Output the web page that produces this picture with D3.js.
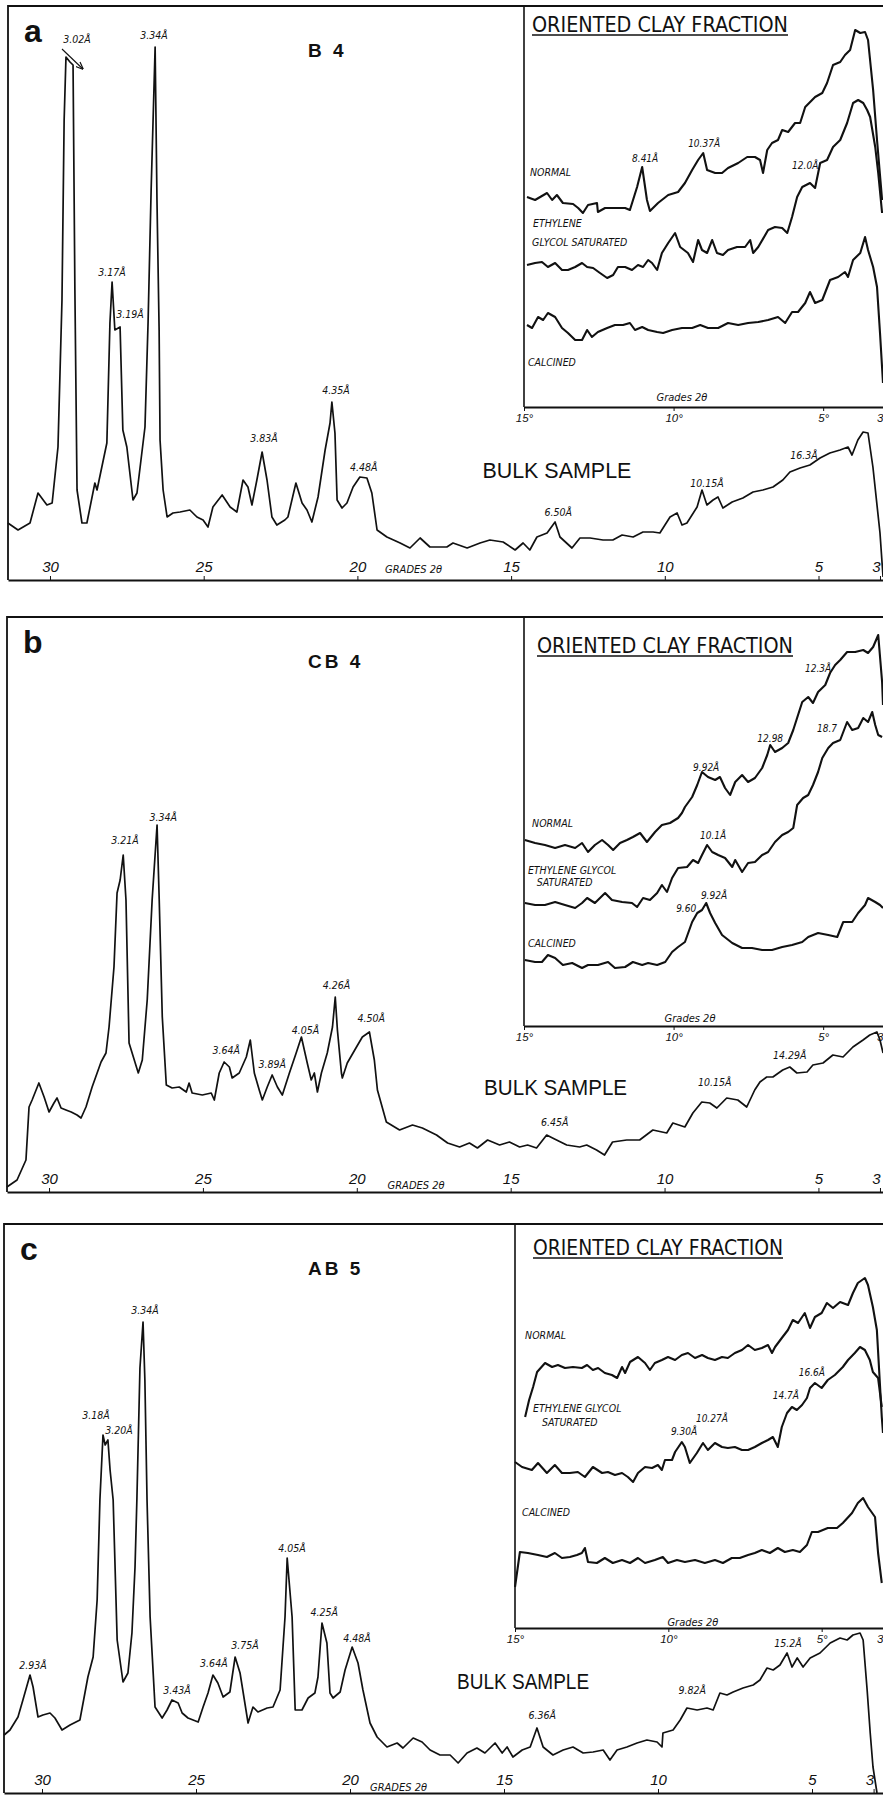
<!DOCTYPE html>
<html>
<head>
<meta charset="utf-8">
<script src="https://cdn.jsdelivr.net/npm/d3@7/dist/d3.min.js"></script>
<style>
  html, body { margin: 0; padding: 0; background: #fff; }
  svg { display: block; }
</style>
</head>
<body>
<svg id="fig" width="883" height="1802"></svg>
<script>
// XRD patterns, three samples — bulk trace + oriented clay fraction inset
// values: [2θ (deg), intensity (arbitrary units)]

const bulkTicks = [30, 25, 20, 15, 10, 5, 3];
const clayTicks = [15, 10, 5, 3];
const sampleNames = ["B 4", "CB 4", "AB 5"];
const clayTraceNames = ["normal", "glycol", "calcined"];

// ---------- panel a : B 4 ----------
const bulkA = [[31.37,57],[31.04,50],[30.65,57],[30.39,87],[30.10,75],[29.93,77],[29.74,133],[29.61,280],[29.54,460],[29.48,523],[29.35,518],[29.25,515],[29.19,290],[29.12,90],[28.96,57],[28.80,57],[28.54,97],[28.47,90],[28.15,137],[28.05,257],[27.98,298],[27.89,250],[27.72,253],[27.63,150],[27.50,133],[27.30,80],[27.17,87],[26.91,153],[26.81,257],[26.71,390],[26.58,533],[26.52,380],[26.45,250],[26.42,140],[26.32,90],[26.19,63],[26.00,67],[25.77,68],[25.45,70],[25.22,63],[25.02,60],[24.86,53],[24.70,73],[24.40,85],[24.14,73],[23.92,68],[23.72,100],[23.56,93],[23.43,75],[23.27,100],[23.10,128],[22.94,100],[22.78,63],[22.62,55],[22.36,60],[22.26,63],[22.00,97],[21.80,77],[21.64,70],[21.48,58],[21.28,83],[21.05,130],[20.89,157],[20.83,178],[20.73,147],[20.66,80],[20.50,72],[20.34,77],[20.14,93],[19.92,103],[19.69,102],[19.53,87],[19.36,50],[19.04,43],[18.61,37],[18.29,32],[17.96,42],[17.64,33],[17.09,33],[16.89,37],[16.43,32],[16.01,37],[15.69,40],[15.26,38],[14.87,30],[14.61,37],[14.39,30],[14.16,43],[13.83,47],[13.57,58],[13.41,43],[13.02,32],[12.76,42],[12.43,42],[12.01,40],[11.69,40],[11.39,45],[11.03,43],[10.71,48],[10.38,48],[10.16,47],[9.83,63],[9.60,67],[9.44,55],[9.28,57],[8.95,73],[8.79,90],[8.63,75],[8.43,80],[8.27,83],[8.11,72],[7.81,78],[7.46,82],[7.13,88],[6.81,90],[6.48,93],[6.16,100],[5.93,108],[5.60,112],[5.28,115],[4.95,122],[4.63,127],[4.30,130],[4.04,133],[3.91,125],[3.72,140],[3.55,148],[3.39,147],[3.23,113],[3.00,47],[2.90,3]];
const normalA = [[14.90,210],[14.63,207],[14.23,214],[14.06,207],[13.90,212],[13.70,204],[13.36,203],[13.19,199],[13.03,194],[12.86,202],[12.56,204],[12.53,195],[12.29,199],[11.96,199],[11.62,199],[11.46,197],[11.22,220],[11.05,240],[10.89,207],[10.79,196],[10.52,204],[10.18,212],[9.85,215],[9.62,224],[9.38,237],[9.18,247],[9.01,254],[8.88,237],[8.61,234],[8.38,234],[8.18,239],[7.84,244],[7.54,250],[7.28,250],[7.11,247],[7.01,234],[6.87,257],[6.71,264],[6.51,267],[6.37,277],[6.17,275],[5.94,284],[5.77,284],[5.60,300],[5.27,310],[5.03,314],[4.87,324],[4.67,342],[4.43,345],[4.27,352],[4.10,357],[3.93,377],[3.76,374],[3.60,375],[3.50,367],[3.33,317],[3.20,267],[3.03,207]];
const glycolA = [[14.90,142],[14.63,144],[14.40,145],[14.20,140],[13.96,144],[13.73,137],[13.53,137],[13.29,140],[13.06,144],[12.89,140],[12.69,139],[12.46,134],[12.22,129],[12.02,132],[11.86,140],[11.62,140],[11.39,137],[11.19,142],[11.02,140],[10.85,147],[10.72,144],[10.55,137],[10.39,154],[10.18,164],[9.95,174],[9.78,160],[9.52,154],[9.35,145],[9.18,167],[9.05,157],[8.88,154],[8.71,167],[8.55,154],[8.35,152],[8.18,157],[7.88,160],[7.61,160],[7.44,167],[7.34,154],[7.17,160],[6.84,177],[6.61,180],[6.37,179],[6.20,174],[6.04,190],[5.87,210],[5.70,220],[5.44,224],[5.27,219],[5.10,244],[4.87,247],[4.67,260],[4.43,267],[4.20,284],[4.00,304],[3.83,307],[3.66,304],[3.53,297],[3.43,290],[3.26,260],[3.16,234],[3.03,194]];
const calcinedA = [[14.90,82],[14.73,79],[14.53,90],[14.36,87],[14.20,94],[13.96,90],[13.73,79],[13.53,74],[13.29,67],[13.06,67],[12.89,77],[12.73,70],[12.53,75],[12.22,79],[11.96,82],[11.69,82],[11.46,84],[11.29,77],[11.05,80],[10.85,77],[10.55,75],[10.35,74],[10.05,77],[9.72,79],[9.38,79],[9.11,82],[8.85,79],[8.51,79],[8.18,84],[7.84,82],[7.51,84],[7.17,85],[6.84,87],[6.51,90],[6.27,84],[6.04,95],[5.84,95],[5.60,104],[5.44,115],[5.27,104],[5.03,107],[4.77,127],[4.50,130],[4.27,135],[4.17,130],[4.00,147],[3.76,154],[3.60,170],[3.50,157],[3.33,140],[3.20,120],[3.10,74],[3.00,24]];
const peaksA = [["3.02Å",29.12,537],["3.34Å",26.62,541],["3.17Å",27.98,304],["3.19Å",27.40,262],["3.83Å",23.04,138],["4.35Å",20.70,186],["4.48Å",19.79,109],["6.50Å",13.47,64],["10.15Å",8.63,93],["16.3Å",5.47,121]];
const arrowA = [[29.61,531],[28.93,511]];
const clayPeaksA = [["8.41Å",10.95,245],["10.37Å",8.98,260],["12.0Å",5.60,238]];
const clayNamesA = [["NORMAL",14.80,231],["ETHYLENE",14.70,180],["GLYCOL SATURATED",14.73,161],["CALCINED",14.87,41]];
const tagsA = [["BULK SAMPLE",13.51,102],["GRADES 2θ",19.10,7],["Grades 2θ",9.72,6]];

// ---------- panel b : CB 4 ----------
const bulkB = [[31.37,5],[31.04,12],[30.75,32],[30.65,85],[30.55,92],[30.33,109],[30.16,95],[30.00,80],[29.84,89],[29.74,94],[29.61,84],[29.45,82],[29.28,80],[29.09,77],[28.96,74],[28.80,85],[28.60,105],[28.31,130],[28.15,139],[28.05,165],[27.89,225],[27.79,299],[27.69,312],[27.59,337],[27.50,292],[27.40,149],[27.30,139],[27.10,119],[26.97,132],[26.81,192],[26.65,292],[26.49,367],[26.42,292],[26.32,175],[26.19,107],[26.00,104],[25.77,105],[25.54,100],[25.45,109],[25.35,99],[25.02,97],[24.73,99],[24.63,92],[24.47,119],[24.31,130],[24.14,125],[24.05,114],[23.82,119],[23.59,135],[23.46,152],[23.33,119],[23.17,102],[23.07,92],[22.91,105],[22.75,117],[22.58,105],[22.42,97],[22.19,119],[21.97,139],[21.80,155],[21.61,129],[21.48,112],[21.38,119],[21.28,100],[21.15,119],[20.96,139],[20.79,165],[20.70,195],[20.63,162],[20.50,119],[20.47,114],[20.31,129],[20.01,145],[19.82,155],[19.59,160],[19.43,132],[19.33,102],[19.04,70],[18.61,62],[18.19,67],[17.87,64],[17.41,57],[17.05,49],[16.66,45],[16.34,49],[16.08,44],[15.75,52],[15.36,47],[15.04,50],[14.71,45],[14.45,47],[14.16,44],[13.83,57],[13.64,54],[13.18,47],[12.76,45],[12.53,47],[12.21,42],[11.95,37],[11.69,50],[11.23,52],[10.81,52],[10.38,62],[9.93,59],[9.73,69],[9.34,65],[9.08,79],[8.79,90],[8.53,89],[8.30,84],[7.98,94],[7.62,92],[7.33,85],[7.07,102],[6.90,110],[6.68,115],[6.48,115],[6.16,122],[5.93,125],[5.70,119],[5.37,120],[5.18,127],[4.85,129],[4.53,137],[4.20,135],[3.88,145],[3.55,152],[3.33,157],[3.10,160],[3.00,152],[2.90,139]];
const normalB = [[14.97,186],[14.63,183],[14.30,181],[13.96,178],[13.63,181],[13.29,178],[13.06,183],[12.86,174],[12.63,181],[12.39,186],[12.19,181],[12.02,176],[11.79,183],[11.56,186],[11.36,189],[11.12,193],[10.89,184],[10.62,194],[10.39,201],[10.12,203],[9.85,208],[9.72,213],[9.62,219],[9.38,229],[9.21,241],[9.05,254],[8.85,249],[8.61,246],[8.45,249],[8.28,238],[8.11,231],[7.94,244],[7.71,251],[7.51,244],[7.28,248],[7.04,258],[6.87,271],[6.77,281],[6.61,274],[6.37,278],[6.17,283],[6.00,296],[5.84,311],[5.70,324],[5.50,329],[5.34,323],[5.17,334],[4.93,341],[4.77,353],[4.60,361],[4.43,366],[4.20,374],[3.93,374],[3.66,376],[3.50,373],[3.33,379],[3.16,391],[3.03,344],[3.00,321]];
const glycolB = [[14.97,123],[14.63,121],[14.30,121],[13.96,124],[13.63,121],[13.29,118],[13.06,123],[12.89,128],[12.63,123],[12.29,133],[12.06,126],[11.72,124],[11.39,123],[11.22,119],[11.02,128],[10.79,126],[10.55,133],[10.39,141],[10.22,134],[10.05,148],[9.85,158],[9.55,159],[9.35,166],[9.18,163],[9.05,171],[8.88,181],[8.71,174],[8.51,171],[8.28,168],[8.04,159],[7.94,166],[7.71,154],[7.51,163],[7.28,164],[7.04,171],[6.84,174],[6.61,184],[6.37,191],[6.17,194],[6.00,198],[5.87,221],[5.67,228],[5.50,231],[5.34,241],[5.17,254],[5.03,268],[4.83,278],[4.67,283],[4.43,286],[4.20,304],[4.03,296],[3.83,298],[3.66,308],[3.50,304],[3.36,314],[3.26,301],[3.16,291],[3.03,289]];
const calcinedB = [[14.97,66],[14.63,64],[14.40,64],[14.20,71],[13.96,68],[13.70,61],[13.39,63],[13.06,58],[12.86,61],[12.53,61],[12.19,64],[11.96,58],[11.62,59],[11.36,64],[11.05,61],[10.85,63],[10.55,61],[10.28,64],[10.05,74],[9.85,79],[9.62,84],[9.38,104],[9.21,113],[9.05,116],[8.91,123],[8.78,113],[8.61,103],[8.38,91],[8.04,83],[7.71,78],[7.38,78],[7.04,76],[6.71,76],[6.37,79],[6.04,81],[5.70,84],[5.50,89],[5.17,93],[4.83,91],[4.53,89],[4.33,104],[4.03,104],[3.83,113],[3.60,121],[3.50,128],[3.26,124],[3.10,121],[3.00,118]];
const peaksB = [["3.21Å",27.53,348],["3.34Å",26.29,371],["3.64Å",24.24,138],["3.89Å",22.75,124],["4.05Å",21.67,158],["4.26Å",20.66,203],["4.50Å",19.53,170],["6.45Å",13.57,66],["10.15Å",8.37,106],["14.29Å",5.93,133]];
const clayPeaksB = [["9.92Å",8.91,255],["12.98",6.77,284],["12.3Å",5.17,354],["18.7",4.87,294],["10.1Å",8.68,187],["9.92Å",8.65,127],["9.60",9.58,114]];
const clayNamesB = [["NORMAL",14.73,199],["ETHYLENE GLYCOL",14.87,152],["SATURATED",14.57,140],["CALCINED",14.87,79]];
const tagsB = [["BULK SAMPLE",13.54,97],["GRADES 2θ",19.00,3],["Grades 2θ",9.45,4]];

// ---------- panel c : AB 5 ----------
const bulkC = [[31.23,58],[31.04,63],[30.78,76],[30.62,93],[30.39,118],[30.29,106],[30.13,76],[29.97,78],[29.74,80],[29.58,75],[29.35,63],[29.09,68],[28.77,73],[28.51,116],[28.34,136],[28.21,193],[28.12,293],[28.02,358],[27.95,348],[27.86,353],[27.79,323],[27.69,293],[27.56,153],[27.37,111],[27.21,120],[27.08,160],[26.98,226],[26.92,293],[26.82,425],[26.72,471],[26.66,413],[26.59,293],[26.49,176],[26.33,86],[26.10,75],[25.94,83],[25.78,93],[25.58,90],[25.45,80],[25.26,75],[24.93,71],[24.77,86],[24.61,100],[24.45,118],[24.29,110],[24.12,96],[23.90,101],[23.73,136],[23.57,120],[23.31,70],[23.15,86],[22.99,81],[22.69,85],[22.50,86],[22.27,103],[22.11,176],[22.04,235],[21.88,176],[21.78,83],[21.56,83],[21.36,95],[21.14,100],[21.04,116],[20.91,170],[20.75,150],[20.65,100],[20.55,95],[20.32,101],[20.16,123],[19.93,146],[19.74,130],[19.58,103],[19.35,70],[19.12,56],[18.80,46],[18.47,50],[18.28,45],[17.95,55],[17.66,51],[17.40,43],[17.08,38],[16.75,38],[16.49,30],[16.20,40],[15.88,45],[15.62,40],[15.29,50],[15.06,40],[14.90,46],[14.71,36],[14.41,43],[14.15,46],[13.93,65],[13.73,46],[13.41,38],[13.08,43],[12.76,46],[12.43,40],[12.11,41],[11.78,43],[11.56,33],[11.33,43],[11.01,46],[10.68,50],[10.36,53],[10.03,51],[9.87,46],[9.84,60],[9.51,63],[9.28,73],[9.06,85],[8.73,83],[8.41,85],[8.21,83],[7.99,100],[7.76,98],[7.56,101],[7.24,105],[6.91,108],[6.69,113],[6.46,125],[6.26,123],[6.04,128],[5.81,140],[5.65,126],[5.48,135],[5.29,126],[5.06,135],[4.74,140],[4.41,150],[4.09,155],[3.86,153],[3.67,158],[3.44,160],[3.34,153],[3.21,103],[3.11,60],[3.02,26],[2.89,0]];
const normalC = [[14.67,211],[14.54,228],[14.41,241],[14.28,256],[14.02,265],[13.79,261],[13.60,263],[13.37,260],[13.11,261],[12.82,260],[12.65,263],[12.46,258],[12.29,260],[12.07,255],[11.84,253],[11.67,250],[11.51,261],[11.41,255],[11.25,266],[10.99,271],[10.76,265],[10.60,258],[10.44,265],[10.21,268],[10.01,271],[9.78,268],[9.56,273],[9.36,275],[9.13,270],[8.90,273],[8.71,270],[8.48,268],[8.25,271],[8.06,270],[7.83,275],[7.60,278],[7.40,283],[7.18,278],[6.95,280],[6.75,283],[6.62,275],[6.52,281],[6.30,290],[6.10,298],[5.94,308],[5.77,305],[5.55,315],[5.38,300],[5.22,311],[5.00,315],[4.83,325],[4.63,320],[4.40,326],[4.14,323],[3.98,335],[3.82,345],[3.59,350],[3.49,343],[3.33,321],[3.20,298],[3.04,211],[3.00,195]];
const glycolC = [[15.00,166],[14.77,161],[14.45,158],[14.25,165],[13.96,155],[13.70,163],[13.47,155],[13.21,155],[12.95,156],[12.72,151],[12.46,161],[12.16,155],[11.97,156],[11.74,153],[11.51,155],[11.32,151],[11.15,146],[10.99,155],[10.76,161],[10.53,160],[10.34,163],[10.21,158],[10.11,168],[9.88,168],[9.78,176],[9.56,186],[9.46,181],[9.30,165],[9.07,175],[8.87,185],[8.71,178],[8.48,185],[8.25,181],[8.06,180],[7.83,181],[7.60,178],[7.40,178],[7.18,181],[6.95,185],[6.75,188],[6.59,191],[6.43,181],[6.30,201],[6.13,215],[5.97,221],[5.81,218],[5.64,223],[5.48,230],[5.38,240],[5.22,245],[5.00,240],[4.80,248],[4.57,253],[4.31,261],[4.14,268],[3.92,275],[3.75,281],[3.59,278],[3.43,268],[3.33,256],[3.16,250],[3.04,221]];
const calcinedC = [[15.00,41],[14.84,76],[14.58,75],[14.25,73],[13.96,71],[13.70,75],[13.47,70],[13.21,71],[12.98,73],[12.82,75],[12.72,80],[12.62,66],[12.33,65],[12.07,70],[11.81,65],[11.51,68],[11.25,65],[10.99,70],[10.76,65],[10.44,68],[10.18,71],[10.01,65],[9.72,68],[9.46,66],[9.13,68],[8.81,65],[8.48,68],[8.22,65],[7.93,70],[7.67,70],[7.40,73],[7.18,75],[6.95,78],[6.69,75],[6.43,80],[6.20,76],[5.94,78],[5.71,76],[5.48,83],[5.32,96],[5.12,96],[4.80,100],[4.50,100],[4.31,105],[4.01,115],[3.82,125],[3.65,130],[3.49,121],[3.26,111],[3.16,75],[3.04,45]];
const peaksC = [["3.34Å",26.66,479],["3.18Å",28.25,374],["3.20Å",27.50,359],["2.93Å",30.29,124],["3.43Å",25.62,99],["3.64Å",24.42,126],["3.75Å",23.41,144],["4.05Å",21.88,241],["4.25Å",20.84,177],["4.48Å",19.77,151],["6.36Å",13.76,74],["9.82Å",8.89,99],["15.2Å",5.78,146]];
const clayPeaksC = [["9.30Å",9.49,193],["10.27Å",8.58,206],["14.7Å",6.17,229],["16.6Å",5.32,252]];
const clayNamesC = [["NORMAL",14.67,289],["ETHYLENE GLYCOL",14.41,216],["SATURATED",14.12,202],["CALCINED",14.77,112]];
const tagsC = [["BULK SAMPLE",14.38,104],["GRADES 2θ",19.35,2],["Grades 2θ",9.20,2]];

// ---------- drawing ----------
const W = 883;
const labelFont = "'DejaVu Sans Condensed', 'Liberation Sans Narrow', 'DejaVu Sans', sans-serif";
const plainFont = "'Liberation Sans', Arial, sans-serif";

const panels = [
  { letter: "a", name: sampleNames[0], bulk: bulkA, clay: [normalA, glycolA, calcinedA],
    peaks: peaksA, clayPeaks: clayPeaksA, clayNames: clayNamesA, tags: tagsA, arrow: arrowA,
    top: 6, left: 8, axisY: 580, dom: [31.366, 2.902], imax: 574,
    inset: { left: 524, bottom: 407, imax: 401 }, titleX: 532, titleY: 32, titleW: 256, bulkW: 149 },
  { letter: "b", name: sampleNames[1], bulk: bulkB, clay: [normalB, glycolB, calcinedB],
    peaks: peaksB, clayPeaks: clayPeaksB, clayNames: clayNamesB, tags: tagsB,
    top: 617, left: 7, axisY: 1192, dom: [31.366, 2.902], imax: 575,
    inset: { left: 524, bottom: 1026, imax: 409 }, titleX: 537, titleY: 653, titleW: 256, bulkW: 143 },
  { letter: "c", name: sampleNames[2], bulk: bulkC, clay: [normalC, glycolC, calcinedC],
    peaks: peaksC, clayPeaks: clayPeaksC, clayNames: clayNamesC, tags: tagsC,
    top: 1224, left: 4, axisY: 1793, dom: [31.234, 2.695], imax: 569,
    inset: { left: 515, bottom: 1628, imax: 404 }, titleX: 533, titleY: 1255, titleW: 250, bulkW: 132 }
];

const svg = d3.select("#fig");
svg.append("rect").attr("width", W).attr("height", 1802).attr("fill", "#fff");

const defs = svg.append("defs");
defs.append("marker").attr("id", "arr").attr("viewBox", "0 0 10 10")
  .attr("refX", 9).attr("refY", 5).attr("markerWidth", 7).attr("markerHeight", 7)
  .attr("orient", "auto")
  .append("path").attr("d", "M0,1L10,5L0,9").attr("fill", "none").attr("stroke", "#111").attr("stroke-width", 1.5);

// the last tick (3) sits on the cut edge of the figure: right-align it
function edgeTick(sel) {
  sel.selectAll(".tick text").filter(d => d === 3).attr("text-anchor", "end").attr("dx", 0);
}

function drawPanel(p) {
  const g = svg.append("g").attr("class", "panel-" + p.letter);

  const x = d3.scaleLinear().domain(p.dom).range([p.left, W]);
  const y = d3.scaleLinear().domain([0, p.imax]).range([p.axisY, p.top]);
  const xi = d3.scaleLinear().domain([15, 3]).range([p.inset.left, W]);
  const yi = d3.scaleLinear().domain([0, p.inset.imax]).range([p.inset.bottom, p.top]);

  // frame: top edge + left edge
  g.append("path")
    .attr("d", `M${p.left},${p.axisY}V${p.top}H${W}`)
    .attr("fill", "none").attr("stroke", "#111").attr("stroke-width", 1.8);

  // inset box left edge
  g.append("line")
    .attr("x1", p.inset.left).attr("x2", p.inset.left)
    .attr("y1", p.top).attr("y2", p.inset.bottom)
    .attr("stroke", "#111").attr("stroke-width", 1.6);

  // bulk axis (labels sit inside, above the line)
  const ax = g.append("g")
    .attr("transform", `translate(0,${p.axisY})`)
    .call(d3.axisTop(x).tickValues(bulkTicks).tickSize(4).tickSizeOuter(0).tickPadding(4).tickFormat(d3.format("d")));
  ax.select(".domain").attr("stroke", "#111").attr("stroke-width", 2.2);
  ax.selectAll(".tick line").attr("stroke", "#111");
  ax.selectAll("text")
    .attr("font-family", plainFont).attr("font-style", "italic")
    .attr("font-size", 15).attr("fill", "#111");
  edgeTick(ax);

  // inset axis
  const iax = g.append("g")
    .attr("transform", `translate(0,${p.inset.bottom})`)
    .call(d3.axisBottom(xi).tickValues(clayTicks).tickSize(4).tickSizeOuter(0).tickPadding(3)
      .tickFormat(d => d === 3 ? "3" : d + "°"));
  iax.select(".domain").attr("stroke", "#111").attr("stroke-width", 2);
  iax.selectAll(".tick line").attr("stroke", "#111");
  iax.selectAll("text")
    .attr("font-family", plainFont).attr("font-style", "italic")
    .attr("font-size", 11.5).attr("fill", "#111");
  edgeTick(iax);

  // bulk trace
  const line = d3.line().x(d => x(d[0])).y(d => y(d[1]));
  g.append("path").datum(p.bulk)
    .attr("class", "bulk")
    .attr("d", line)
    .attr("fill", "none").attr("stroke", "#111")
    .attr("stroke-width", 1.7).attr("stroke-linejoin", "round");

  // clay traces
  const iline = d3.line().x(d => xi(d[0])).y(d => yi(d[1]));
  g.selectAll(".clay")
    .data(p.clay)
    .join("path")
    .attr("class", (d, i) => "clay " + clayTraceNames[i])
    .attr("d", iline)
    .attr("fill", "none").attr("stroke", "#111")
    .attr("stroke-width", 2.1).attr("stroke-linejoin", "round");

  // peak labels (bulk)
  g.selectAll(".pk")
    .data(p.peaks)
    .join("text")
    .attr("class", "pk")
    .attr("x", d => x(d[1])).attr("y", d => y(d[2]))
    .attr("text-anchor", "middle")
    .attr("font-family", labelFont).attr("font-style", "italic")
    .attr("font-size", 10.5).attr("fill", "#111")
    .text(d => d[0]);

  // peak labels (clay)
  g.selectAll(".cpk")
    .data(p.clayPeaks)
    .join("text")
    .attr("class", "cpk")
    .attr("x", d => xi(d[1])).attr("y", d => yi(d[2]))
    .attr("text-anchor", "middle")
    .attr("font-family", labelFont).attr("font-style", "italic")
    .attr("font-size", 10).attr("fill", "#111")
    .text(d => d[0]);

  // trace names in inset
  g.selectAll(".cname")
    .data(p.clayNames)
    .join("text")
    .attr("class", "cname")
    .attr("x", d => xi(d[1])).attr("y", d => yi(d[2]))
    .attr("font-family", labelFont).attr("font-style", "italic")
    .attr("font-size", 10.5).attr("fill", "#111")
    .text(d => d[0]);

  // BULK SAMPLE, GRADES 2θ (bulk), Grades 2θ (inset)
  const [bulkTag, grades, clayGrades] = p.tags;
  g.append("text")
    .attr("x", x(bulkTag[1])).attr("y", y(bulkTag[2]))
    .attr("text-anchor", "middle")
    .attr("font-family", plainFont).attr("font-size", 22)
    .attr("textLength", p.bulkW).attr("lengthAdjust", "spacingAndGlyphs")
    .attr("fill", "#111")
    .text(bulkTag[0]);
  g.append("text")
    .attr("x", x(grades[1])).attr("y", y(grades[2]))
    .attr("font-family", labelFont).attr("font-style", "italic")
    .attr("font-size", 11).attr("fill", "#111")
    .text(grades[0]);
  g.append("text")
    .attr("x", xi(clayGrades[1])).attr("y", yi(clayGrades[2]))
    .attr("text-anchor", "middle")
    .attr("font-family", labelFont).attr("font-style", "italic")
    .attr("font-size", 11).attr("fill", "#111")
    .text(clayGrades[0]);

  // arrow on the 3.02 Å peak
  if (p.arrow) {
    g.append("line")
      .attr("x1", x(p.arrow[0][0])).attr("y1", y(p.arrow[0][1]))
      .attr("x2", x(p.arrow[1][0])).attr("y2", y(p.arrow[1][1]))
      .attr("stroke", "#111").attr("stroke-width", 1.1)
      .attr("marker-end", "url(#arr)");
  }

  // panel letter + sample name
  g.append("text")
    .attr("x", p.left + 16).attr("y", p.top + 36)
    .attr("font-family", plainFont).attr("font-weight", "bold")
    .attr("font-size", 32).attr("fill", "#111")
    .text(p.letter);
  g.append("text")
    .attr("x", 308).attr("y", p.top + 51)
    .attr("font-family", plainFont).attr("font-size", 19).attr("font-weight", "bold")
    .attr("letter-spacing", 3).attr("fill", "#111")
    .text(p.name);

  // inset title, underlined
  g.append("text")
    .attr("x", p.titleX).attr("y", p.titleY)
    .attr("font-family", labelFont).attr("font-size", 21)
    .attr("textLength", p.titleW).attr("lengthAdjust", "spacingAndGlyphs")
    .attr("fill", "#111")
    .text("ORIENTED CLAY FRACTION");
  g.append("line")
    .attr("x1", p.titleX).attr("x2", p.titleX + p.titleW)
    .attr("y1", p.titleY + 3).attr("y2", p.titleY + 3)
    .attr("stroke", "#111").attr("stroke-width", 1.4);
}

panels.forEach(drawPanel);
</script>
</body>
</html>
